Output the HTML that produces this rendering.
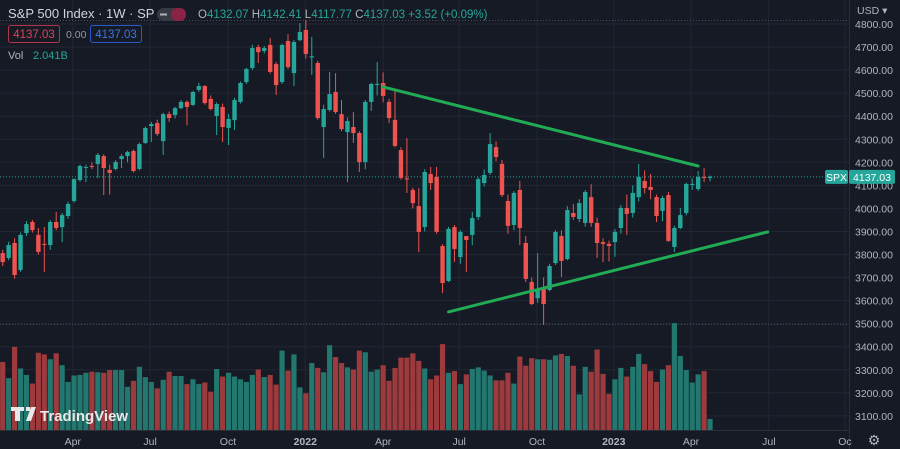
<!DOCTYPE html>
<html><head><meta charset="utf-8">
<style>
html,body{margin:0;padding:0;background:#161a25;}
body{width:900px;height:449px;overflow:hidden;font-family:"Liberation Sans",sans-serif;}
svg{display:block}
</style></head>
<body>
<svg id="chart" width="900" height="449" xmlns="http://www.w3.org/2000/svg" font-family="Liberation Sans, sans-serif">
<rect x="0" y="0" width="900" height="449" fill="#161a25"/>
<g id="grid"></g>
<g id="vol"></g>
<g id="candles"></g>
<g id="trend"></g>
<g id="axes"></g>
<g>
<text x="8" y="18" font-size="13" fill="#d1d4dc">S&amp;P 500 Index · 1W · SP</text>
<rect x="157" y="8" width="29" height="13" rx="6.5" fill="#363a45"/>
<rect x="171" y="8" width="15" height="13" rx="6" fill="#8a2346"/>
<rect x="160" y="13.5" width="7" height="2" fill="#b2b5be"/>
<text x="198" y="18" font-size="11.5" fill="#26a69a"><tspan fill="#b2b5be">O</tspan>4132.07 <tspan fill="#b2b5be">H</tspan>4142.41 <tspan fill="#b2b5be">L</tspan>4117.77 <tspan fill="#b2b5be">C</tspan>4137.03 +3.52 (+0.09%)</text>
<rect x="8.5" y="25.5" width="51" height="17" rx="2" fill="none" stroke="#b2334a"/>
<text x="34" y="38" font-size="11.5" fill="#e0415a" text-anchor="middle">4137.03</text>
<text x="66" y="38" font-size="10.5" fill="#9598a1">0.00</text>
<rect x="90.5" y="25.5" width="51" height="17" rx="2" fill="none" stroke="#2a58c8"/>
<text x="116" y="38" font-size="11.5" fill="#3d74e8" text-anchor="middle">4137.03</text>
<text x="8" y="59" font-size="11" fill="#b2b5be">Vol</text>
<text x="33" y="59" font-size="11" fill="#26a69a">2.041B</text>
</g>
<g>
<path d="M11 407h13v4h-4v10h-5v-10h-4z M26 407h4v4h-4z M31 407h5l-5 14h-5z" fill="#e8e8e8"/>
<text x="40" y="421" font-size="15" font-weight="bold" fill="#e8e8e8">TradingView</text>
</g>
</svg>
<script>
const opens=[3806,3785,3850,3733,3893,3941,3885,3846,3841,3941,3919,3967,4032,4123,4178,4184,4193,4227,4167,4171,4214,4227,4249,4171,4284,4357,4370,4292,4409,4405,4435,4462,4449,4514,4531,4475,4401,4440,4349,4383,4462,4548,4609,4700,4683,4709,4626,4548,4726,4587,4730,4774,4655,4631,4353,4427,4505,4409,4331,4353,4327,4201,4462,4537,4544,4462,4384,4253,4130,4080,4010,3919,4149,4136,3837,3685,3919,3789,3880,3885,3963,4110,4154,4266,4193,4032,3928,4080,3850,3681,3610,3650,3646,3763,3880,3780,3980,3954,3937,4049,3937,3854,3846,3854,3915,4002,3980,4049,4119,4093,4049,3989,4058,3833,3915,3980,4102,4084,4136,4132.07];
const closes=[3767,3841,3711,3885,3932,3906,3811,3843,3941,3915,3971,4019,4127,4184,4180,4180,4232,4175,4154,4201,4227,4245,4162,4279,4349,4366,4323,4409,4392,4435,4462,4440,4505,4531,4457,4431,4453,4353,4388,4470,4544,4605,4696,4678,4696,4592,4535,4709,4613,4722,4765,4670,4660,4392,4431,4496,4418,4344,4379,4327,4201,4462,4540,4540,4488,4392,4271,4132,4127,4023,3898,4158,4110,3898,3676,3911,3824,3898,3863,3958,4127,4145,4279,4223,4058,3924,4067,3915,3694,3585,3646,3585,3750,3898,3772,3993,3963,4023,4071,3937,3850,3846,3837,3898,4002,3976,4067,4136,4088,4080,3967,4045,3859,3915,3971,4106,4106,4136,4132,4137.03];
const highs=[3820,3855,3870,3895,3945,3950,3915,3919,3950,3984,3980,4030,4130,4190,4190,4200,4240,4235,4190,4210,4235,4250,4255,4285,4355,4375,4385,4415,4420,4440,4470,4468,4510,4545,4535,4490,4460,4455,4410,4480,4550,4610,4710,4710,4705,4739,4635,4715,4756,4730,4804,4817,4744,4640,4450,4592,4587,4470,4395,4418,4335,4470,4545,4635,4590,4475,4509,4265,4305,4090,4088,4170,4180,4180,3845,3920,3928,3905,3880,3985,4135,4170,4327,4290,4210,4060,4075,4119,3880,3700,3806,3700,3760,3905,3905,4010,4020,4040,4080,4105,3960,3870,3860,3910,4015,4060,4100,4193,4165,4150,4060,4055,4071,3925,4002,4112,4130,4162,4175,4142.41];
const lows=[3750,3775,3695,3725,3880,3895,3800,3724,3820,3905,3854,3955,4025,4115,4114,4170,4132,4058,4060,4165,4175,4200,4155,4165,4280,4288,4315,4232,4375,4390,4430,4360,4445,4505,4450,4425,4318,4288,4275,4340,4455,4540,4600,4631,4672,4585,4492,4540,4605,4531,4725,4650,4579,4385,4219,4420,4410,4335,4114,4284,4158,4170,4423,4490,4460,4370,4265,4125,4067,4000,3811,3900,4080,3890,3633,3680,3767,3760,3724,3840,3950,4095,4145,4205,4050,3890,3905,3841,3680,3580,3590,3494,3640,3755,3702,3775,3950,3940,3920,3920,3785,3767,3770,3790,3890,3885,3960,4030,4065,4040,3941,3945,3855,3811,3910,3970,4080,4075,4114,4117.77];
const volumes=[12.6,9.6,15.4,11.4,10.2,8.6,14.3,14.0,13.1,14.2,12.0,8.9,10.1,10.2,10.6,10.8,10.7,10.6,11.1,11.1,11.1,8.0,9.1,11.7,9.8,8.9,7.7,9.3,10.8,10.0,10.0,8.5,9.4,8.5,8.8,7.1,11.3,9.9,10.6,9.9,9.4,8.9,10.2,11.2,9.8,10.2,8.4,14.7,11.0,14.0,7.9,6.8,12.4,11.5,10.7,15.7,13.5,12.4,11.6,11.2,14.7,14.4,10.8,11.2,12.0,9.1,11.5,13.4,13.4,14.2,12.8,11.4,9.4,10.1,15.9,10.6,10.9,8.5,10.3,11.3,11.6,11.0,10.1,9.2,9.2,10.6,8.6,13.6,11.9,13.3,13.1,13.1,13.0,13.8,14.1,13.7,11.9,6.6,11.7,10.8,14.9,10.4,6.7,9.4,11.5,9.9,11.7,14.1,12.2,10.9,8.9,11.2,12.0,19.8,13.7,11.1,8.8,10.3,10.9,2.041];
const priceTicks=[4800,4700,4600,4500,4400,4300,4200,4100,4000,3900,3800,3700,3600,3500,3400,3300,3200,3100];
const timeLabels=["Apr","Jul","Oct","2022","Apr","Jul","Oct","2023","Apr","Jul","Oc"];
const timeIdx=[11.8,24.8,37.9,50.9,64,76.8,89.9,102.8,115.8,128.9,141.7];
const trendUpper=[[64,4527],[117,4184]];
const trendLower=[[75,3551],[128.7,3898]];
const lastPrice=4137.03;

const NS="http://www.w3.org/2000/svg";
const X=i=>2.7+5.944*i;
const Y=p=>24+(4800-p)*0.2305;
const VY=v=>430-v*5.4;
function mk(tag,attrs,parent){const e=document.createElementNS(NS,tag);for(const k in attrs)e.setAttribute(k,attrs[k]);parent.appendChild(e);return e;}
const grid=document.getElementById('grid'),vol=document.getElementById('vol'),cg=document.getElementById('candles'),tg=document.getElementById('trend'),ax=document.getElementById('axes');
priceTicks.forEach(p=>{const l=mk('line',{x1:0,x2:849,y1:Y(p),y2:Y(p),stroke:'#222633','stroke-width':1},grid);

});
timeIdx.forEach(i=>{const l=mk('line',{x1:X(i),x2:X(i),y1:0,y2:430,stroke:'#222633','stroke-width':1},grid);

});
[20.5,324.5].forEach(y=>{const l=mk('line',{x1:0,x2:849,y1:y,y2:y,stroke:'#4a4e5a','stroke-dasharray':'1 2'},grid);

});
volumes.forEach((v,i)=>{const up=closes[i]>=opens[i];const r=mk('rect',{x:X(i)-2.6,y:VY(v),width:5.2,height:430-VY(v),fill:up?'#22776f':'#9c3a3d'},vol);

});
const pl=mk('line',{x1:0,x2:849,y1:Y(lastPrice),y2:Y(lastPrice),stroke:'#26a69a','stroke-dasharray':'1 2','stroke-width':1},cg);


opens.forEach((o,i)=>{const c=closes[i],up=c>=o,col=up?'#26a69a':'#ef5350';const x=X(i);
const w=mk('line',{x1:x,x2:x,y1:Y(highs[i]),y2:Y(lows[i]),stroke:col,'stroke-width':1},cg);


const t=Y(Math.max(o,c)),b=Y(Math.min(o,c));
const r=mk('rect',{x:x-2.2,y:t,width:4.4,height:Math.max(1,b-t),fill:col},cg);

});
[trendUpper,trendLower].forEach(tl=>{const l=mk('line',{x1:X(tl[0][0]),y1:Y(tl[0][1]),x2:X(tl[1][0]),y2:Y(tl[1][1]),stroke:'#22ab55','stroke-width':3,'stroke-linecap':'round'},tg);

});
const ab=mk('rect',{x:849,y:0,width:51,height:449,fill:'#161a25'},ax);


const al=mk('line',{x1:849.5,x2:849.5,y1:0,y2:449,stroke:'#2a2e39'},ax);


const bl=mk('line',{x1:0,x2:849,y1:430.5,y2:430.5,stroke:'#2a2e39'},ax);


const usd=mk('text',{x:857,y:14,'font-size':10.5,fill:'#b2b5be'},ax);usd.textContent='USD ▾';


priceTicks.forEach(p=>{const t=mk('text',{x:855,y:Y(p)+4,'font-size':10.5,fill:'#b2b5be'},ax);t.textContent=p.toFixed(2);

});
timeLabels.forEach((s,k)=>{const t=mk('text',{x:X(timeIdx[k]),y:445,'font-size':10.5,fill:'#b2b5be','text-anchor':'middle','font-weight':/^\d/.test(s)?'bold':'normal'},ax);t.textContent=s;

});
const sb=mk('rect',{x:825,y:Y(lastPrice)-7,width:23,height:14,rx:2,fill:'#26a69a'},ax);


const st=mk('text',{x:836.5,y:Y(lastPrice)+4,'font-size':10.5,fill:'#fff','text-anchor':'middle'},ax);st.textContent='SPX';


const pb=mk('rect',{x:849,y:Y(lastPrice)-7,width:46,height:14,rx:2,fill:'#26a69a'},ax);


const pt=mk('text',{x:872,y:Y(lastPrice)+4,'font-size':10.5,fill:'#fff','text-anchor':'middle'},ax);pt.textContent=lastPrice.toFixed(2);


const gear=mk('text',{x:874,y:445,'font-size':14,fill:'#b2b5be','text-anchor':'middle'},ax);gear.textContent='⚙';


</script>
</body></html>
